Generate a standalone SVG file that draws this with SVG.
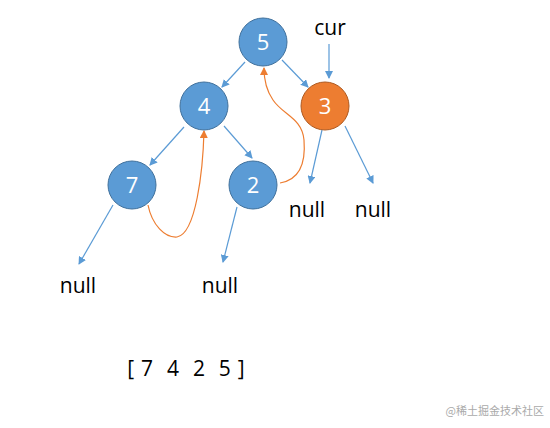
<svg xmlns="http://www.w3.org/2000/svg" width="550" height="428" viewBox="0 0 550 428">
<defs>
<style>
.node{fill:#5B9BD5;stroke:#41719C;stroke-width:1}
.cur{fill:#ED7D31;stroke:#AE5A21;stroke-width:1}
.nt{font-family:"Open Sans","Liberation Sans",sans-serif;font-size:22px;fill:#fff;text-anchor:middle}
.lbl{font-family:"Open Sans","Liberation Sans",sans-serif;font-size:21px;fill:#000;text-anchor:middle}
.edge{stroke:#5B9BD5;stroke-width:1.2;fill:none;marker-end:url(#ab)}
.back{stroke:#ED7D31;stroke-width:1.2;fill:none;marker-end:url(#ao)}
</style>
<marker id="ab" markerWidth="8" markerHeight="8" refX="7" refY="4" orient="auto" markerUnits="userSpaceOnUse"><path d="M0,0 L8,4 L0,8 z" fill="#5B9BD5"/></marker>
<marker id="ao" markerWidth="8" markerHeight="8" refX="7" refY="4" orient="auto" markerUnits="userSpaceOnUse"><path d="M0,0 L8,4 L0,8 z" fill="#ED7D31"/></marker>
</defs>
<rect width="550" height="428" fill="#fff"/>
<g id="connectors">
<line class="edge" x1="245" y1="62" x2="222" y2="87"/>
<line class="edge" x1="282" y1="60" x2="308" y2="87"/>
<line class="edge" x1="184" y1="127" x2="150" y2="165"/>
<line class="edge" x1="224" y1="126" x2="252" y2="158"/>
<line class="edge" x1="322" y1="130" x2="310" y2="183"/>
<line class="edge" x1="345" y1="126" x2="373" y2="183"/>
<line class="edge" x1="113" y1="205" x2="79" y2="264"/>
<line class="edge" x1="237" y1="207" x2="223" y2="262"/>
<line class="edge" x1="329" y1="44" x2="329" y2="78"/>
<path class="back" d="M148,205 C152,225 165,238 177,237 C196,234 203,170 204,131"/>
<path class="back" d="M280,183 C298,180 306,165 304,140 C302,118 283,115 273,100 C266,90 264,80 264,68"/>
</g>
<g id="node-5"><circle class="node" cx="263" cy="42" r="24"/><text class="nt" x="263" y="50">5</text></g>
<g id="node-4"><circle class="node" cx="204" cy="106" r="24"/><text class="nt" x="204" y="114">4</text></g>
<g id="node-3"><circle class="cur" cx="325" cy="106" r="24"/><text class="nt" x="325" y="114">3</text></g>
<g id="node-7"><circle class="node" cx="132" cy="185" r="24"/><text class="nt" x="132" y="193">7</text></g>
<g id="node-2"><circle class="node" cx="253" cy="185" r="24"/><text class="nt" x="253" y="193">2</text></g>
<g id="label-cur"><text class="lbl" x="330" y="35">cur</text></g>
<g id="null-1"><text class="lbl" x="307" y="217">null</text></g>
<g id="null-2"><text class="lbl" x="373" y="217">null</text></g>
<g id="null-3"><text class="lbl" x="78" y="293">null</text></g>
<g id="null-4"><text class="lbl" x="220" y="293">null</text></g>
<g id="array"><text class="lbl" x="186" y="376" font-size="22" word-spacing="1.5" style="white-space:pre">[ 7  4  2  5 ]</text></g>
<text x="544" y="415" font-family="'Noto Sans CJK SC',sans-serif" font-size="11" fill="#aaa" text-anchor="end">@稀土掘金技术社区</text>
</svg>
